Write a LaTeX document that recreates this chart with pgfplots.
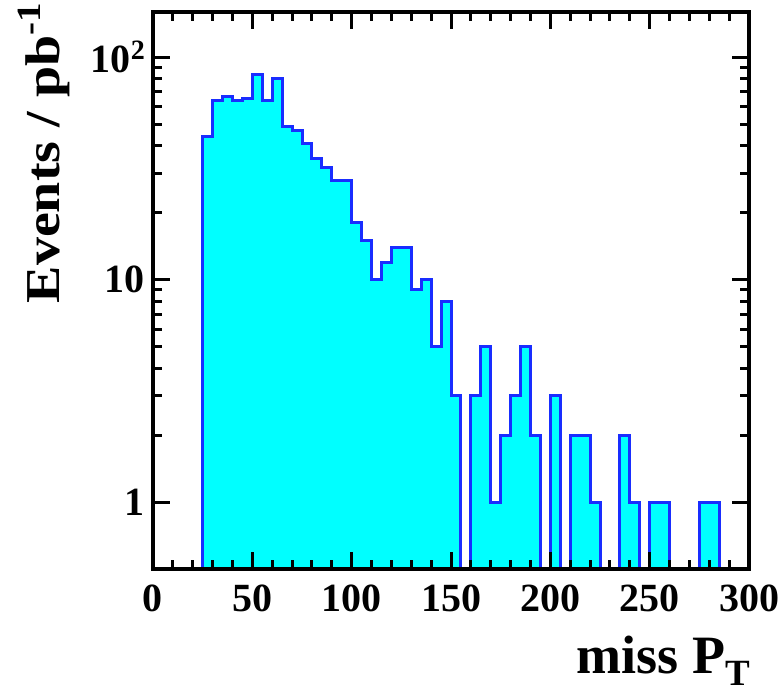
\documentclass[border=0pt]{standalone}
\usepackage{fontspec}
\setmainfont{Liberation Serif}
\usepackage{pgfplots}
\pgfplotsset{compat=1.18}

\definecolor{histfill}{RGB}{0,255,255}
\definecolor{histline}{RGB}{25,45,255}

\newcommand{\ticksize}{\fontsize{40}{40}\selectfont\bfseries}
\newcommand{\titlesize}{\fontsize{54}{54}\selectfont\bfseries}

\begin{document}
\begin{tikzpicture}[font=\bfseries]
\useasboundingbox (-153pt,-125pt) rectangle (629pt,569pt);
\begin{axis}[
  at={(0pt,0pt)}, anchor=south west,
  scale only axis, width=596pt, height=557pt,
  xmin=0, xmax=300, ymin=0.5, ymax=160,
  ymode=log,
  axis on top,
  axis line style={line width=3.3pt},
  xtick={0,50,...,300},
  minor x tick num=4,
  ytick={1,10,100},
  yticklabels={1,10,{10\raisebox{13pt}{\fontsize{28}{28}\selectfont 2}}},
  tick align=inside,
  xtick pos=both, ytick pos=both,
  major tick length=17pt, minor tick length=9pt,
  every tick/.style={black, line width=3pt},
  tick label style={font=\ticksize},
  /pgf/number format/assume math mode=true,
  xticklabel style={anchor=north, inner sep=0pt, yshift=-16pt},
  yticklabel style={anchor=east, inner sep=0pt, xshift=-8pt},
]
% missing transverse momentum, 5-unit bins; empty bins are left open
\addplot[const plot, fill=histfill, draw=histline, line width=3pt] coordinates {
  (25,0.5) (25,44) (30,64) (35,67) (40,64) (45,65) (50,84) (55,64) (60,80)
  (65,49) (70,47) (75,41) (80,35) (85,32) (90,28) (95,28) (100,18) (105,15)
  (110,10) (115,12) (120,14) (125,14) (130,9) (135,10) (140,5) (145,8)
  (150,3) (155,3) (155,0.5)};
\addplot[const plot, fill=histfill, draw=histline, line width=3pt] coordinates {
  (160,0.5) (160,3) (165,5) (170,1) (175,2) (180,3) (185,5) (190,2)
  (195,2) (195,0.5)};
\addplot[const plot, fill=histfill, draw=histline, line width=3pt] coordinates {
  (200,0.5) (200,3) (205,3) (205,0.5)};
\addplot[const plot, fill=histfill, draw=histline, line width=3pt] coordinates {
  (210,0.5) (210,2) (215,2) (220,1) (225,1) (225,0.5)};
\addplot[const plot, fill=histfill, draw=histline, line width=3pt] coordinates {
  (235,0.5) (235,2) (240,1) (245,1) (245,0.5)};
\addplot[const plot, fill=histfill, draw=histline, line width=3pt] coordinates {
  (250,0.5) (250,1) (255,1) (260,1) (260,0.5)};
\addplot[const plot, fill=histfill, draw=histline, line width=3pt] coordinates {
  (275,0.5) (275,1) (280,1) (285,1) (285,0.5)};
\end{axis}
% axis titles
\node[anchor=base east, font=\titlesize, inner sep=0pt]
  at (597pt,-104pt) {miss P\raisebox{-12pt}{\fontsize{37}{37}\selectfont T}};
\node[xscale=0.87, rotate=90, anchor=base east, font=\fontsize{56}{56}\selectfont\bfseries, inner sep=0pt]
  at (-93pt,566pt) {Events / pb\raisebox{22pt}{\fontsize{39}{39}\selectfont -1}};
\end{tikzpicture}
\end{document}
